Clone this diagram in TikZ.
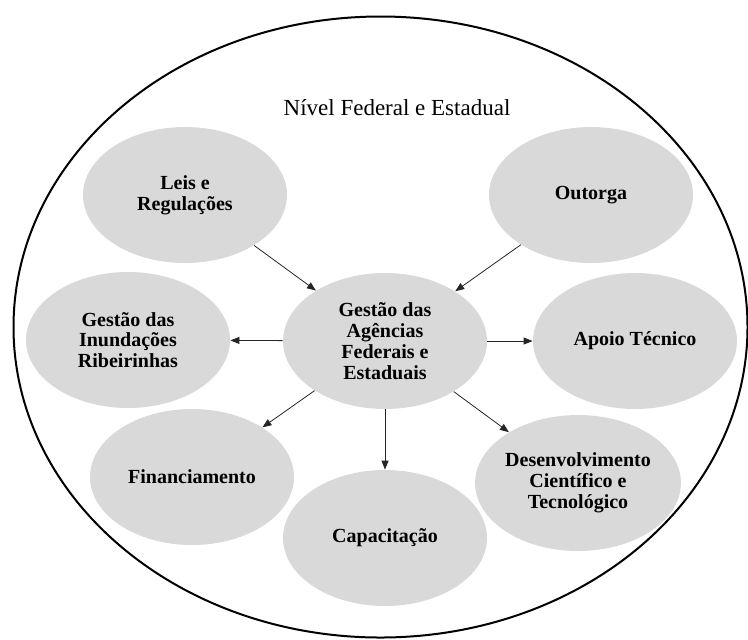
\documentclass[tikz,border=0pt]{standalone}
\usepackage{fontspec}
\setmainfont{Liberation Serif}
\usetikzlibrary{shapes.geometric}
\usetikzlibrary{arrows.meta}
\definecolor{bubblegray}{RGB}{217,217,217}
\def\thickness{thin}
\tikzset{
bubble/.style={ellipse, fill=bubblegray, inner sep=0pt, minimum width=102pt, minimum height=68pt, align=center, font=\fontsize{10}{10.4}\selectfont\bfseries},
link/.style={\thickness, draw=black!85, -{Triangle[length=4.5pt,width=3.5pt]}},
}
\begin{document}
\begin{tikzpicture}[x=0.5pt, y=-0.5pt]
	\useasboundingbox (0,0) rectangle (748,639);
	\draw[line width=1pt] (380.5,327) ellipse [x radius=367, y radius=310.5];
	\node[font=\fontsize{11.5}{13}\selectfont] (title) at (397,108) {Nível Federal e Estadual};
	
	%
	\node[bubble] (center) at (385,341) {Gestão das\\Agências\\Federais e\\Estaduais};
	
	%
	\node[bubble] (leis) at (185,195) {Leis e\\Regulações};
	\node[bubble] (outorga) at (591,195) {Outorga};
	\node[bubble] (inund) at (128,340) {Gestão das\\Inundações\\Ribeirinhas};
	\node[bubble] (apoio) at (635,341) {Apoio Técnico};
	\node[bubble] (financ) at (192,477) {Financiamento};
	\node[bubble] (capac) at (385,538) {Capacitação};
	\node[bubble] (desenv) at (578,483) {Desenvolvimento\\Científico e\\Tecnológico};
	
	%
	\draw[link] (leis) to (center);
	\draw[link] (outorga) to (center);
	
	%
	\draw[link] (center) to (inund);
	\draw[link] (center) to (apoio);
	\draw[link] (center) to (financ);
	\draw[link] (center) to (capac);
	\draw[link] (center) to (desenv);
\end{tikzpicture}
\end{document}
